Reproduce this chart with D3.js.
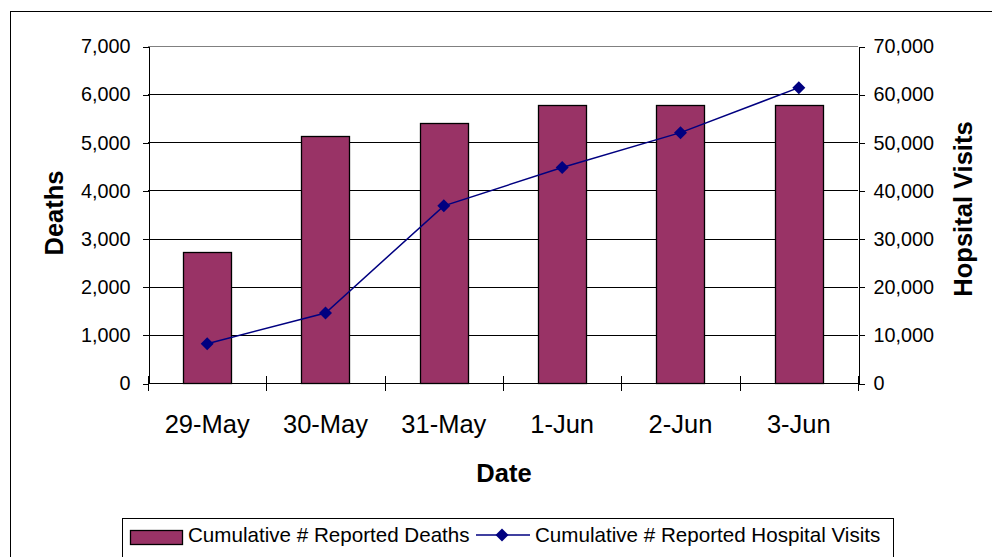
<!DOCTYPE html>
<html>
<head>
<meta charset="utf-8">
<script src="https://cdn.jsdelivr.net/npm/d3@7"></script>
<style>
body{margin:0;background:#fff;}
svg{display:block;font-family:Arial,"Liberation Sans",sans-serif;}
.axis text{fill:#000;}
.axis path,.axis line{stroke:#000;shape-rendering:crispEdges;}
</style>
</head>
<body>
<div class="container"></div>
<script>
// data
var dates=["29-May","30-May","31-May","1-Jun","2-Jun","3-Jun"];
var deaths=[2720,5135,5400,5770,5770,5770];
var visits=[8150,14550,36800,44750,52000,61350];
var deathTicks=[0,1000,2000,3000,4000,5000,6000,7000];
var visitTicks=[0,10000,20000,30000,40000,50000,60000,70000];

var width=992, height=557;
var plot={left:148,right:858,top:46,bottom:383};

var svg=d3.select(".container").append("svg").attr("width",width).attr("height",height);

// outer chart frame (runs off the page on right and bottom)
svg.append("rect").attr("x",10.5).attr("y",11.5).attr("width",1000).attr("height",600)
   .attr("fill","#fff").attr("stroke","#000").attr("stroke-width",1);

var x=d3.scaleBand().domain(dates).range([plot.left,plot.right]).padding(0);
var yL=d3.scaleLinear().domain([0,7000]).range([plot.bottom,plot.top]);
var yR=d3.scaleLinear().domain([0,70000]).range([plot.bottom,plot.top]);
var barW=x.bandwidth()*0.406;

// gridlines
svg.append("g").selectAll("line").data(deathTicks.slice(1,-1)).enter().append("line")
   .attr("x1",plot.left).attr("x2",plot.right)
   .attr("y1",function(d){return Math.round(yL(d))+0.5;})
   .attr("y2",function(d){return Math.round(yL(d))+0.5;})
   .attr("stroke","#000").attr("stroke-width",1);
// top border of plot area
svg.append("line").attr("x1",plot.left).attr("x2",plot.right)
   .attr("y1",plot.top+0.5).attr("y2",plot.top+0.5).attr("stroke","#808080");

// bars
svg.append("g").selectAll("rect").data(deaths).enter().append("rect")
   .attr("x",function(d,i){return Math.round(x(dates[i])+(x.bandwidth()-barW)/2)+0.5;})
   .attr("y",function(d){return Math.round(yL(d))+0.5;})
   .attr("width",Math.round(barW))
   .attr("height",function(d){return Math.round(yL(0))-Math.round(yL(d));})
   .attr("fill","#993366").attr("stroke","#000").attr("stroke-width",1.3);

// left axis
var yAxisL=d3.axisLeft(yL).tickValues(deathTicks).tickFormat(d3.format(",")).tickSizeInner(6).tickSizeOuter(0).tickPadding(12);
svg.append("g").attr("class","axis").attr("transform","translate("+(plot.left+0.5)+",0.5)")
   .call(yAxisL).selectAll("text").attr("font-size","19.8px");

// right axis
var yAxisR=d3.axisRight(yR).tickValues(visitTicks).tickFormat(d3.format(",")).tickSizeInner(6).tickSizeOuter(0).tickPadding(9);
svg.append("g").attr("class","axis").attr("transform","translate("+(plot.right+0.5)+",0.5)")
   .call(yAxisR).selectAll("text").attr("font-size","19.8px");

// x axis: line plus crossing ticks at category boundaries
var xg=svg.append("g").attr("class","axis");
xg.append("line").attr("x1",plot.left).attr("x2",plot.right)
  .attr("y1",plot.bottom+0.5).attr("y2",plot.bottom+0.5);
var bounds=dates.map(function(d){return x(d);}).concat([plot.right]);
xg.selectAll(".xt").data(bounds).enter().append("line").attr("class","xt")
  .attr("x1",function(d){return Math.round(d)+0.5;}).attr("x2",function(d){return Math.round(d)+0.5;})
  .attr("y1",plot.bottom-7).attr("y2",plot.bottom+8);
xg.selectAll("text").data(dates).enter().append("text")
  .attr("x",function(d){return x(d)+x.bandwidth()/2;})
  .attr("y",433).attr("text-anchor","middle").attr("font-size","25.5px").text(function(d){return d;});

// hospital visits line
var line=d3.line().x(function(d,i){return x(dates[i])+x.bandwidth()/2;}).y(function(d){return yR(d);});
svg.append("path").datum(visits).attr("d",line).attr("fill","none").attr("stroke","#000080").attr("stroke-width",1.5);
var diamond="M0,-6.5L6.5,0L0,6.5L-6.5,0Z";
svg.append("g").selectAll("path").data(visits).enter().append("path")
   .attr("d",diamond)
   .attr("transform",function(d,i){return "translate("+(x(dates[i])+x.bandwidth()/2)+","+yR(d)+")";})
   .attr("fill","#000080");

// axis titles
svg.append("text").attr("transform","translate(63,213) rotate(-90)").attr("text-anchor","middle")
   .attr("font-size","25.5px").attr("font-weight","bold").text("Deaths");
svg.append("text").attr("transform","translate(972,209) rotate(-90)").attr("text-anchor","middle")
   .attr("font-size","25.5px").attr("font-weight","bold").text("Hopsital Visits");
svg.append("text").attr("x",504).attr("y",482).attr("text-anchor","middle")
   .attr("font-size","25.5px").attr("font-weight","bold").text("Date");

// legend
var lg=svg.append("g");
lg.append("rect").attr("x",122.5).attr("y",518.5).attr("width",771).attr("height",40)
  .attr("fill","#fff").attr("stroke","#000");
lg.append("rect").attr("x",130.5).attr("y",530.5).attr("width",52).attr("height",14)
  .attr("fill","#993366").attr("stroke","#000").attr("stroke-width",1.3);
lg.append("text").attr("x",188).attr("y",542).attr("font-size","20.6px").text("Cumulative # Reported Deaths");
lg.append("line").attr("x1",476).attr("x2",530).attr("y1",535).attr("y2",535)
  .attr("stroke","#000080").attr("stroke-width",1.5);
lg.append("path").attr("d",diamond).attr("transform","translate(502,535)").attr("fill","#000080");
lg.append("text").attr("x",535).attr("y",542).attr("font-size","20.6px").text("Cumulative # Reported Hospital Visits");
</script>
</body>
</html>
